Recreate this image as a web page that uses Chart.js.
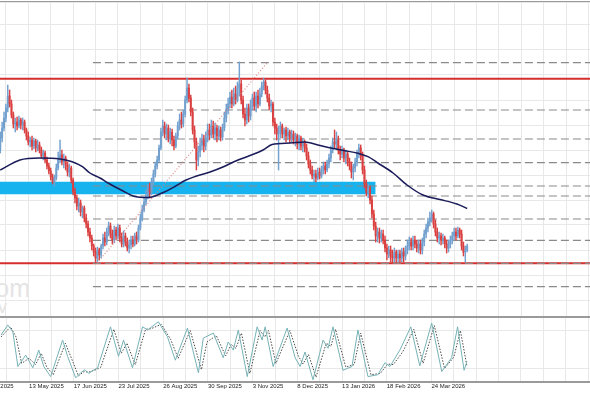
<!DOCTYPE html>
<html><head><meta charset="utf-8">
<script src="https://cdn.jsdelivr.net/npm/chart.js@4.4.1/dist/chart.umd.min.js"></script>
<style>
html,body{margin:0;padding:0;background:#fff;}
body{width:590px;height:393px;overflow:hidden;position:relative;font-family:'Liberation Sans',sans-serif;}
.box{position:absolute;left:-40px;width:630px;}
.rule{position:absolute;left:0;width:590px;background:#9a9a9a;}
.wm{position:absolute;color:#e4e4e4;white-space:nowrap;}
</style></head><body>
<div class="wm" style="top:276px;right:560px;font-size:25px;line-height:25px;">com</div>
<div class="wm" style="top:298px;right:583px;font-size:18px;line-height:18px;">tv</div>
<div class="box" style="top:2px;height:314px"><canvas id="main"></canvas></div>
<div class="box" style="top:318px;height:75px"><canvas id="osc"></canvas></div>
<div class="rule" style="top:1px;height:1px"></div>
<div class="rule" style="top:316px;height:2px"></div>
<div class="rule" style="top:381px;height:2px"></div>
<script>
// ---- data (daily bars, index 0 = first bar) ----
const opens = [
850,862,872,882,892,904,896,885,876,878, 874,880,875,878,870,864,858,860,854,859,
852,855,850,844,847,840,834,829,823,818, 822,832,840,845,838,842,835,828,832,820,
808,802,794,797,788,792,782,776,768,762, 754,748,742,750,745,754,762,758,768,774,
766,760,770,764,772,762,756,764,758,752, 755,760,756,764,760,772,782,790,798,804,
812,808,818,826,834,840,852,868,874,866, 872,862,868,860,854,864,874,880,876,886,
900,912,902,888,870,858,840,848,855,860, 854,862,870,865,874,866,872,864,870,863,
872,882,890,896,903,896,906,900,912,916, 900,886,880,892,884,894,902,894,904,896,
906,914,918,910,902,894,896,878,872,866, 868,874,866,870,864,868,862,866,860,864,
856,862,854,858,852,844,836,830,824,826, 822,828,824,830,834,830,836,842,850,858,
856,860,850,846,850,842,846,838,834,828, 832,838,846,852,844,830,816,808,812,800,
786,774,764,768,762,766,760,752,746,750, 744,742,748,742,746,742,748,744,750,754,
758,754,760,756,752,756,750,758,766,772, 778,782,786,776,768,762,764,760,762,756,
752,756,760,764,768,764,770,766,754,748, 750];
const highs = [
868,878,888,896,915,910,900,888,882,883, 884,882,882,880,872,868,863,864,862,861,
860,858,853,850,849,843,837,832,826,825, 836,848,860,850,846,844,838,836,834,822,
812,805,802,800,794,794,786,779,772,765, 756,752,753,752,756,766,768,772,778,777,
770,774,773,776,775,767,769,767,762,760, 764,764,767,768,775,786,795,802,810,816,
817,822,830,838,844,855,872,880,878,876, 875,872,871,864,867,878,886,888,890,904,
922,916,905,892,874,862,854,862,866,865, 868,876,876,880,879,877,875,874,873,876,
888,896,902,908,910,912,914,918,938,920, 904,892,896,896,900,906,908,908,910,912,
918,922,920,914,906,900,898,882,876,874, 878,876,872,873,872,870,870,869,867,866,
865,864,862,860,856,848,840,834,830,830, 832,832,834,838,838,840,846,854,862,870,
868,864,854,854,852,850,848,842,838,836, 842,850,856,855,848,834,820,816,814,804,
790,778,772,772,770,770,764,756,754,754, 750,752,750,750,750,752,752,754,760,763,
762,764,764,760,760,760,762,770,776,782, 788,790,788,780,772,768,767,766,764,760,
760,764,768,772,772,773,772,770,758,754, 756];
const lows = [
847,858,869,878,888,893,882,872,868,870, 872,871,870,867,860,855,853,850,851,848,
849,847,842,840,837,831,826,820,816,814, 820,830,837,835,832,830,824,823,817,805,
797,790,788,784,782,778,772,764,758,750, 744,737,738,740,742,751,754,755,764,762,
756,757,760,761,758,753,753,754,749,747, 751,753,754,756,758,770,779,788,795,801,
803,805,815,823,831,838,850,864,862,860, 858,856,854,850,852,861,870,872,873,883,
897,898,884,866,852,830,834,843,850,848, 850,858,860,862,862,860,858,860,859,860,
869,878,886,892,892,894,896,898,904,896, 882,874,876,878,880,890,890,888,892,894,
903,910,906,898,890,888,874,866,860,830, 862,862,860,858,860,857,858,856,854,851,
850,850,848,848,840,832,826,821,818,818, 820,821,822,826,826,828,832,838,847,852,
850,846,840,842,838,836,834,830,822,820, 828,834,842,840,826,812,804,802,796,782,
770,758,758,757,758,756,748,740,742,738, 737,738,737,738,737,738,738,740,746,750,
750,750,752,748,747,746,746,754,762,768, 774,778,772,764,758,756,755,756,752,747,
748,752,756,760,760,762,762,750,744,738, 748];
const closes = [
862,872,882,892,904,896,885,876,878,874, 880,875,878,870,864,858,860,854,859,852,
855,850,844,847,840,834,829,823,818,822, 832,840,845,838,842,835,828,832,820,808,
802,794,797,788,792,782,776,768,762,754, 748,742,750,745,754,762,758,768,774,766,
760,770,764,772,762,756,764,758,752,755, 760,756,764,760,772,782,790,798,804,812,
808,818,826,834,840,852,868,874,866,872, 862,868,860,854,864,874,880,876,886,900,
912,902,888,870,858,840,848,855,860,854, 862,870,865,874,866,872,864,870,863,872,
882,890,896,903,896,906,900,912,916,900, 886,880,892,884,894,902,894,904,896,906,
914,918,910,902,894,896,878,872,866,868, 874,866,870,864,868,862,866,860,864,856,
862,854,858,852,844,836,830,824,826,822, 828,824,830,834,830,836,842,850,858,856,
860,850,846,850,842,846,838,834,828,832, 838,846,852,844,830,816,808,812,800,786,
774,764,768,762,766,760,752,746,750,744, 742,748,742,746,742,748,744,750,754,758,
754,760,756,752,756,750,758,766,772,778, 782,786,776,768,762,764,760,762,756,752,
756,760,764,768,764,770,766,754,748,750, 754];

// moving average: [bar, value]
const maPoints = [[0,830],[10.5,840],[21,842],[32,841],[38.5,838.3],[44,833.3],[48,827],[53.4,822],
[57.7,817],[65.2,809.5],[72.1,803.5],[79.1,802.5],[86.6,807],[93.5,813.5],[98.9,819.5],[104.3,823.5],
[112.3,828],[119.2,833],[126.7,839.5],[133.7,844.5],[140.7,850],[145.5,855.5],[155.1,857],[163.1,858],
[170.1,855],[177.6,851.7],[184.6,849.3],[191.5,846.7],[196.9,843.3],[202.2,837],[210.3,827],[217.8,815],
[226.3,805],[235.4,800.5],[244.5,796],[250,791.5]];

// stochastic %K and %D turning points: [bar, value]
const stochK = [[0,73],[3.6,89],[6.3,78],[9,23],[13.2,41],[17,21],[20.2,49],[22.9,23],[26.6,7],[33,65],
[35.7,39],[40,5],[42.7,13],[45,18],[47,12],[49.5,17],[51.8,21],[58.7,86],[63,39],[65.7,65],[70.5,21],
[75.9,86],[78.6,81],[84.4,94],[89.3,70],[93.5,33],[100,84],[105.9,13],[108.5,68],[113.9,76],[119.2,37],
[121.9,62],[124.6,49],[127.3,81],[132.1,7],[137.4,86],[140.1,65],[141.7,86],[146,23],[153.5,84],
[157.8,37],[160.5,23],[163.1,46],[167.4,2],[172.8,65],[175.5,52],[178.1,86],[183.5,17],[188.3,23],
[191.5,81],[196.9,7],[202.2,10],[206,29],[208.7,23],[214,49],[219.9,86],[224.7,24],[231.1,92],
[236.5,15],[241.8,37],[245,86],[248.5,17],[250,31]];
const stochD = [[0,70],[5,86],[8,70],[11,28],[15,36],[18.5,26],[21.5,44],[24.5,22],[28,10],[34.5,60],
[37.5,38],[41.5,8],[44.5,15],[47,14],[51,18],[53.5,22],[60.5,82],[64.5,44],[67.5,60],[72,26],[77.5,82],
[80.5,83],[86,90],[91,66],[95,36],[101.5,80],[107.5,18],[110.5,62],[115.5,72],[120.5,40],[123.5,58],
[126,52],[129,76],[133.5,12],[139,80],[141.5,70],[143.5,80],[147.5,28],[155,80],[159.5,40],[162,27],
[165,42],[169,6],[174.5,60],[177,55],[179.5,82],[185,22],[189.5,26],[193,76],[198.5,10],[203.5,12],
[207.5,27],[210.5,26],[215.5,46],[221.5,82],[226.5,28],[232.5,88],[238,20],[243,38],[246.5,80],[250,24]];

// horizontal levels and zone
const dashedLevels = [937.3, 890, 861, 837.3, 814, 804, 781, 759.7, 736.7, 713.3];
const redLevels = [921.3, 736.7];
const levelStartBar = 49.6;
const zoneTop = 818.3, zoneBottom = 805.7, zoneEndBar = 201;
const trendLine = [[51.8, 737], [143.3, 938]];

// date axis
const tickBars = [-9, 15, 39, 63, 87, 111, 135, 159, 183, 207, 231];
const tickLabels = ['8 Apr 2025','13 May 2025','17 Jun 2025','23 Jul 2025','26 Aug 2025','30 Sep 2025',
'3 Nov 2025','8 Dec 2025','13 Jan 2026','18 Feb 2026','24 Mar 2026'];
const gridStepBars = 12;

// ---- layout ----
const pxPerBar = 1.8676, hiddenLeft = 40, canvasW = 630;
const xMin = -0.15 - hiddenLeft / pxPerBar;
const xMax = xMin + canvasW / pxPerBar;
const priceMin = 684, priceMax = 998;
const gridTicks = [];
for (let v = -21; v <= xMax; v += gridStepBars) gridTicks.push(v);

const bull = '#72a0cf', bear = '#db4040', gridCol = '#e8e8e8';
const candleCol = closes.map((c, i) => c >= opens[i] ? bull : bear);

function xScale(showLabels) {
  return {
    type: 'linear', min: xMin, max: xMax, offset: false,
    afterBuildTicks: s => { s.ticks = gridTicks.map(v => ({ value: v })); },
    afterFit: s => { s.height = showLabels ? 12 : 0; },
    grid: { color: gridCol, drawTicks: false, lineWidth: 1, offset: false },
    border: { display: false },
    ticks: {
      display: showLabels, autoSkip: false, maxRotation: 0, minRotation: 0, align: 'start', padding: 2,
      color: '#222', font: { family: 'Liberation Sans', size: 6 },
      callback: v => { const k = tickBars.indexOf(v); return k >= 0 ? tickLabels[k] : ''; }
    }
  };
}

const datasets = [];
datasets.push({ type: 'line', order: 10, data: [{ x: xMin, y: zoneTop }, { x: zoneEndBar, y: zoneTop }],
  fill: { value: zoneBottom }, backgroundColor: '#16b3ee', borderWidth: 0, pointRadius: 0 });
dashedLevels.forEach(v => datasets.push({ type: 'line', order: 6,
  data: [{ x: levelStartBar, y: v }, { x: xMax, y: v }],
  borderColor: '#8a8a8a', borderDash: [8, 4], borderWidth: 1.2, pointRadius: 0, fill: false }));
redLevels.forEach(v => datasets.push({ type: 'line', order: 7,
  data: [{ x: xMin, y: v }, { x: xMax, y: v }],
  borderColor: '#d42e2e', borderWidth: 2, pointRadius: 0, fill: false }));
datasets.push({ type: 'bar', order: 5, grouped: false, barThickness: 0.8,
  data: closes.map((c, i) => ({ x: i, y: [lows[i], highs[i]] })), backgroundColor: candleCol, borderWidth: 0 });
datasets.push({ type: 'bar', order: 4, grouped: false, barThickness: 1.3,
  data: closes.map((c, i) => ({ x: i, y: [opens[i], c] })), backgroundColor: candleCol, borderWidth: 0 });
datasets.push({ type: 'line', order: 3, data: trendLine.map(p => ({ x: p[0], y: p[1] })),
  borderColor: 'rgba(220,130,130,0.95)', borderDash: [1, 2], borderWidth: 1.2, pointRadius: 0, fill: false });
datasets.push({ type: 'line', order: 1, data: maPoints.map(p => ({ x: p[0], y: p[1] })),
  borderColor: '#1b1b5a', borderWidth: 1.5, pointRadius: 0, fill: false, cubicInterpolationMode: 'monotone' });

const common = { responsive: true, maintainAspectRatio: false, animation: false, events: [],
  layout: { padding: 0, autoPadding: false },
  elements: { point: { radius: 0, hoverRadius: 0, hitRadius: 0, borderWidth: 0 } },
  plugins: { legend: { display: false }, tooltip: { enabled: false } } };

new Chart(document.getElementById('main'), {
  type: 'line',
  data: { datasets },
  options: Object.assign({}, common, {
    scales: {
      x: xScale(false),
      y: { type: 'linear', min: priceMin, max: priceMax,
        afterFit: s => { s.width = 0; },
        ticks: { display: false, stepSize: 25 },
        grid: { color: gridCol, drawTicks: false }, border: { display: false } }
    }
  })
});

new Chart(document.getElementById('osc'), {
  type: 'line',
  data: { datasets: [
    { data: stochD.map(p => ({ x: p[0], y: p[1] })), borderColor: '#4a4a4a', borderDash: [1.5, 1.5],
      borderWidth: 1, pointRadius: 0, fill: false, order: 2 },
    { data: stochK.map(p => ({ x: p[0], y: p[1] })), borderColor: '#76b2b6',
      borderWidth: 1, pointRadius: 0, fill: false, order: 1 }
  ] },
  options: Object.assign({}, common, {
    scales: {
      x: xScale(true),
      y: { type: 'linear', min: 0, max: 100,
        afterBuildTicks: s => { s.ticks = [{ value: 20 }, { value: 80 }]; },
        afterFit: s => { s.width = 0; },
        ticks: { display: false }, grid: { color: gridCol, drawTicks: false }, border: { display: false } }
    }
  })
});
</script>
</body></html>
